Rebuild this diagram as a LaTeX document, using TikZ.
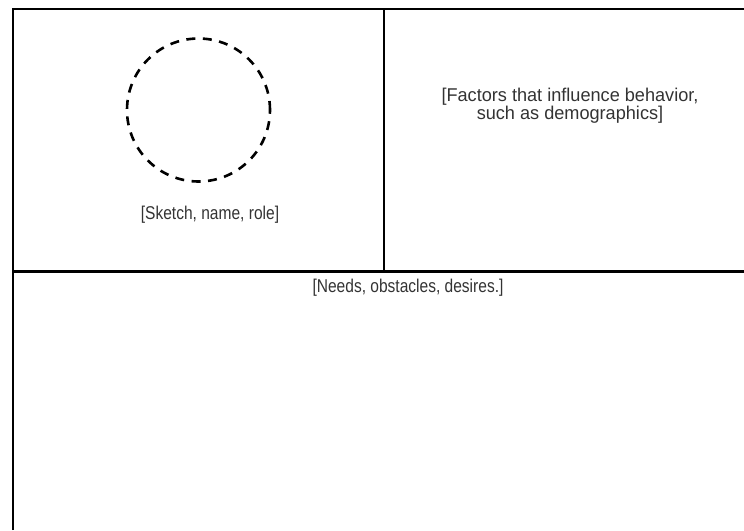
\documentclass[tikz,border=0pt]{standalone}
\usepackage{fontspec}
\setmainfont{Liberation Sans}[FakeStretch=0.84]
\newfontfamily\widerfont{Liberation Sans}[FakeStretch=0.98]
\definecolor{txt}{HTML}{333333}
\begin{document}
\begin{tikzpicture}[x=1pt,y=-1pt,
  frame/.style={line width=2.6pt,black},
  lbl/.style={text=txt,font=\fontsize{18.5}{14}\selectfont,align=center,inner sep=0pt},
  face/.style={line width=2.6pt,dash pattern=on 9pt off 7.5pt}]
\useasboundingbox (0,0) rectangle (744,530);
\coordinate (tl) at (13,9);
\coordinate (tr) at (744,9);
\coordinate (bl) at (13,530);
\coordinate (ml) at (13,271.5);
\coordinate (mr) at (744,271.5);
\coordinate (vt) at (384,9);
\coordinate (vb) at (384,271.5);
\draw[frame] (bl) -- (tl) -- (tr);
\draw[frame] (ml) -- (mr);
\draw[frame] (vt) -- (vb);
\node[draw,circle,face,minimum size=143pt,inner sep=0pt] (face) at (198.5,110) {};
\node[lbl] (sketch) at (210,215) {[Sketch, name, role]};
\node[lbl,font=\widerfont\fontsize{18.5}{13.5}\selectfont] (factors) at (570,106) {[Factors that influence behavior,\\such as demographics]};
\node[lbl] (needs) at (408,288) {[Needs, obstacles, desires.]};
\end{tikzpicture}
\end{document}
